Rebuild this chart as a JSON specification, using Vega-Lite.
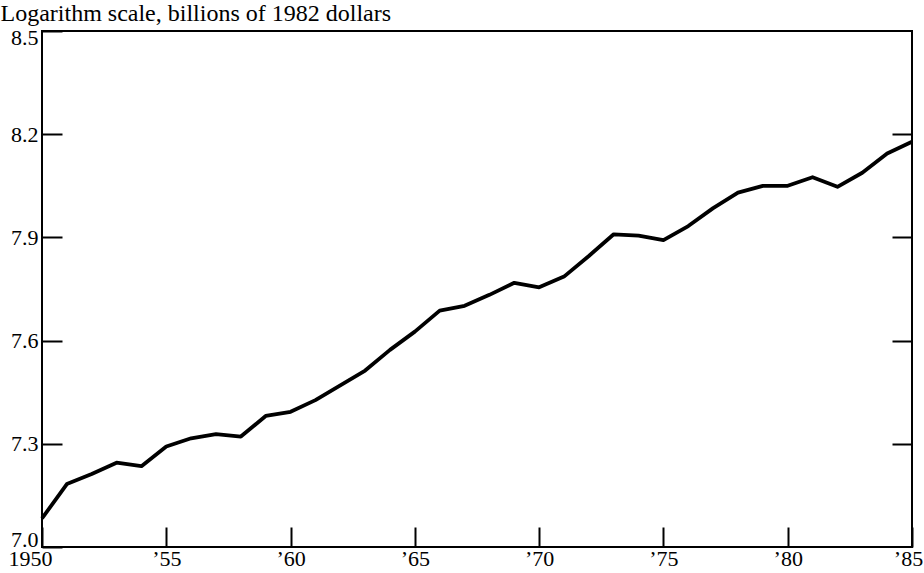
{
  "$schema": "https://vega.github.io/schema/vega-lite/v6.json",
  "autosize": "none",
  "width": 870,
  "height": 516,
  "padding": {"left": 42, "top": 31, "right": 12, "bottom": 26},
  "background": "white",
  "config": {
    "view": {"stroke": "black", "strokeWidth": 2},
    "font": "Liberation Serif",
    "axis": {
      "domain": false,
      "grid": false,
      "tickColor": "black",
      "tickWidth": 2,
      "tickSize": -20,
      "labelColor": "black",
      "labelFont": "Liberation Serif",
      "labelFontSize": 22,
      "titleFont": "Liberation Serif",
      "titleColor": "black",
      "titleFontWeight": "normal"
    }
  },
  "data": {
    "values": [
      {"year": 1950, "gnp": 7.083},
      {"year": 1951, "gnp": 7.183},
      {"year": 1952, "gnp": 7.212},
      {"year": 1953, "gnp": 7.245},
      {"year": 1954, "gnp": 7.235},
      {"year": 1955, "gnp": 7.292},
      {"year": 1956, "gnp": 7.316},
      {"year": 1957, "gnp": 7.328},
      {"year": 1958, "gnp": 7.321},
      {"year": 1959, "gnp": 7.381},
      {"year": 1960, "gnp": 7.393},
      {"year": 1961, "gnp": 7.427},
      {"year": 1962, "gnp": 7.470},
      {"year": 1963, "gnp": 7.513},
      {"year": 1964, "gnp": 7.573},
      {"year": 1965, "gnp": 7.626},
      {"year": 1966, "gnp": 7.687},
      {"year": 1967, "gnp": 7.701},
      {"year": 1968, "gnp": 7.733},
      {"year": 1969, "gnp": 7.768},
      {"year": 1970, "gnp": 7.755},
      {"year": 1971, "gnp": 7.786},
      {"year": 1972, "gnp": 7.846},
      {"year": 1973, "gnp": 7.909},
      {"year": 1974, "gnp": 7.905},
      {"year": 1975, "gnp": 7.892},
      {"year": 1976, "gnp": 7.933},
      {"year": 1977, "gnp": 7.985},
      {"year": 1978, "gnp": 8.030},
      {"year": 1979, "gnp": 8.050},
      {"year": 1980, "gnp": 8.050},
      {"year": 1981, "gnp": 8.075},
      {"year": 1982, "gnp": 8.047},
      {"year": 1983, "gnp": 8.088},
      {"year": 1984, "gnp": 8.144},
      {"year": 1985, "gnp": 8.178}
    ]
  },
  "encoding": {
    "x": {
      "field": "year",
      "type": "quantitative",
      "scale": {"domain": [1950, 1985], "nice": false, "zero": false},
      "axis": {
        "title": null,
        "values": [1950, 1955, 1960, 1965, 1970, 1975, 1980, 1985],
        "format": "d",
        "labelExpr": "datum.value == 1950 ? '1950' : '’' + slice(datum.label, 2)",
        "labelFlush": false,
        "labelPadding": 21,
        "labelOffset": {"condition": [{"test": "datum.value == 1950", "value": -12}, {"test": "datum.value == 1985", "value": -4}], "value": 0}
      }
    }
  },
  "layer": [
    {
      "mark": {"type": "line", "color": "black", "strokeWidth": 3.8, "strokeJoin": "round"},
      "encoding": {
        "y": {
          "field": "gnp",
          "type": "quantitative",
          "scale": {"domain": [7.0, 8.5], "nice": false, "zero": false},
          "axis": {
            "orient": "left",
            "values": [7.0, 7.3, 7.6, 7.9, 8.2, 8.5],
            "format": ".1f",
            "labelPadding": 24,
            "labelFlush": true,
            "labelFlushOffset": 4,
            "title": "Logarithm scale, billions of 1982 dollars",
            "titleAngle": 0,
            "titleAlign": "left",
            "titleBaseline": "alphabetic",
            "titleFontSize": 24,
            "titleX": -42,
            "titleY": -11
          }
        }
      }
    },
    {
      "mark": {"type": "line", "color": "black", "strokeOpacity": 0},
      "encoding": {
        "y": {
          "field": "gnp",
          "type": "quantitative",
          "scale": {"domain": [7.0, 8.5], "nice": false, "zero": false},
          "axis": {
            "orient": "right",
            "values": [7.3, 7.6, 7.9, 8.2],
            "labels": false,
            "title": null
          }
        }
      }
    }
  ],
  "resolve": {"axis": {"y": "independent"}}
}
